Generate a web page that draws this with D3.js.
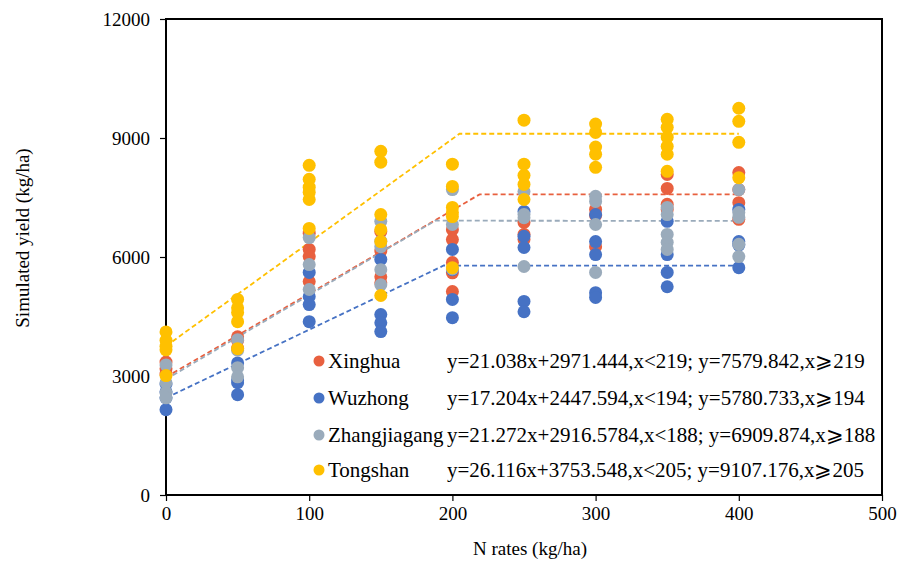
<!DOCTYPE html>
<html>
<head>
<meta charset="utf-8">
<script src="https://cdn.jsdelivr.net/npm/d3@7"></script>
<style>
  body { margin: 0; background: #fff; }
  svg text { font-family: "Times New Roman", "Liberation Serif", "DejaVu Serif", serif; fill: #000; }
</style>
</head>
<body>
<svg id="chart" width="905" height="566"></svg>
<script>
// N application rates (kg/ha)
const nRates = [0, 50, 100, 150, 200, 250, 300, 350, 400];

// simulated yields per site, one list per N rate (several years each)
const xinghua = [
  [3350, 3180, 3050], [3990, 3900, 3700], [6600, 6190, 6010, 5380],
  [6640, 6150, 5500, 5350], [6690, 6440, 5860, 5600, 5130], [6870, 6570, 6440],
  [7200, 7050, 6260], [8080, 7730, 7330, 7200], [8130, 7700, 7370, 6950]
];
const wuzhong = [
  [2800, 2600, 2450, 2150], [3330, 2900, 2830, 2530], [5610, 5000, 4800, 4370],
  [5940, 4550, 4340, 4120], [6190, 5680, 4930, 4470], [7150, 6520, 6240, 4880, 4620],
  [7070, 6390, 6060, 5100, 4980], [6900, 6060, 5610, 5250], [7200, 6390, 6300, 5730]
];
const zhangjiagang = [
  [3280, 2830, 2580, 2450], [3915, 3650, 3210, 2980], [6490, 5810, 5180],
  [6900, 6400, 6260, 5680, 5300], [7700, 6820, 5700], [7650, 7070, 6990, 5760],
  [7530, 7400, 6820, 5610], [7250, 7070, 6570, 6370, 6190], [7700, 7120, 7000, 6320, 6010]
];
const tongshan = [
  [4110, 3900, 3750, 3660, 3010], [4930, 4720, 4600, 4370, 3690],
  [8310, 7960, 7760, 7630, 7450, 6720], [8665, 8390, 7070, 6690, 6390, 5030],
  [8340, 7780, 7250, 7120, 7020, 5730], [9450, 8340, 8060, 7830, 7450],
  [9350, 9140, 8770, 8590, 8260], [9470, 9270, 9020, 8790, 8590, 8160],
  [9750, 9420, 8890, 8000]
];

const siteNames = ["Xinghua", "Wuzhong", "Zhangjiagang", "Tongshan"];
const siteColors = ["#E8603F", "#4672C4", "#9AABBB", "#FFC000"];
const siteYields = [xinghua, wuzhong, zhangjiagang, tongshan];

// linear-plateau fits
const slopes = [21.038, 17.204, 21.272, 26.116];
const intercepts = [2971.444, 2447.594, 2916.5784, 3753.548];
const breakpoints = [219, 194, 188, 205];
const plateaus = [7579.842, 5780.733, 6909.874, 9107.176];
const equations = [
  "y=21.038x+2971.444,x<219; y=7579.842,x\u2A7E219",
  "y=17.204x+2447.594,x<194; y=5780.733,x\u2A7E194",
  "y=21.272x+2916.5784,x<188; y=6909.874,x\u2A7E188",
  "y=26.116x+3753.548,x<205; y=9107.176,x\u2A7E205"
];

const xTicks = [0, 100, 200, 300, 400, 500];
const yTicks = [0, 3000, 6000, 9000, 12000];

const serif = "'Times New Roman', 'Liberation Serif', serif";
const svg = d3.select("#chart");
const plotL = 166, plotR = 882, plotT = 19, plotB = 495;

const x = d3.scaleLinear().domain([0, 500]).range([plotL, plotR]);
const y = d3.scaleLinear().domain([0, 12000]).range([plotB, plotT]);

// axes
const xAxis = svg.append("g")
  .attr("transform", `translate(0,${plotB})`)
  .call(d3.axisBottom(x).tickValues(xTicks).tickSize(6).tickPadding(6));
const yAxis = svg.append("g")
  .attr("transform", `translate(${plotL},0)`)
  .call(d3.axisLeft(y).tickValues(yTicks).tickSize(6).tickPadding(10).tickFormat(d3.format("d")));

[xAxis, yAxis].forEach(g => {
  g.attr("font-family", serif).attr("font-size", 19);
  g.select(".domain").remove();
  g.selectAll(".tick line").attr("stroke", "#000").attr("stroke-width", 1.2);
  g.selectAll(".tick text").attr("fill", "#000");
});

// frame round the plot
svg.append("rect")
  .attr("x", plotL).attr("y", plotT)
  .attr("width", plotR - plotL).attr("height", plotB - plotT)
  .attr("fill", "none").attr("stroke", "#000").attr("stroke-width", 2);

// fitted dashed lines
const fitLine = d3.line().x(d => x(d[0])).y(d => y(d[1]));
siteNames.forEach((name, i) => {
  const pts = [
    [0, intercepts[i]],
    [breakpoints[i], slopes[i] * breakpoints[i] + intercepts[i]],
    [400, plateaus[i]]
  ];
  svg.append("path")
    .attr("d", fitLine(pts))
    .attr("fill", "none")
    .attr("stroke", siteColors[i])
    .attr("stroke-width", 1.8)
    .attr("stroke-dasharray", "5,3");
});

// points
siteYields.forEach((rows, i) => {
  const data = [];
  rows.forEach((vals, j) => vals.forEach(v => data.push({ n: nRates[j], v: v })));
  svg.append("g").selectAll("circle")
    .data(data)
    .enter()
    .append("circle")
    .attr("cx", d => x(d.n))
    .attr("cy", d => y(d.v))
    .attr("r", 6.5)
    .style("fill", siteColors[i]);
});

// legend
const legend = svg.append("g").attr("font-family", serif).attr("font-size", 21);
const rowY = [361, 398, 435, 470];
siteNames.forEach((name, i) => {
  legend.append("circle")
    .attr("cx", 319).attr("cy", rowY[i]).attr("r", 5.5)
    .style("fill", siteColors[i]);
  legend.append("text")
    .attr("x", 328).attr("y", rowY[i] + 7)
    .text(name);
  legend.append("text")
    .attr("x", 447).attr("y", rowY[i] + 7)
    .text(equations[i]);
});

// axis titles
svg.append("text")
  .attr("x", (plotL + plotR) / 2 + 6).attr("y", 555)
  .attr("text-anchor", "middle")
  .attr("font-family", serif).attr("font-size", 19)
  .text("N rates (kg/ha)");

svg.append("text")
  .attr("transform", "translate(29,238) rotate(-90)")
  .attr("text-anchor", "middle")
  .attr("font-family", serif).attr("font-size", 19)
  .text("Simulated yield (kg/ha)");
</script>
</body>
</html>
